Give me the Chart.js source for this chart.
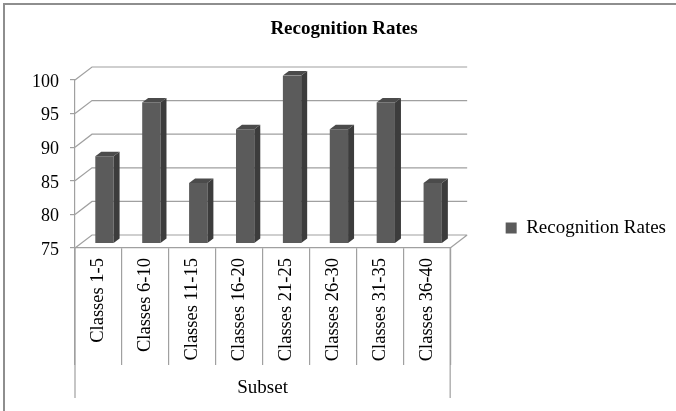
<!DOCTYPE html>
<html>
<head>
<meta charset="utf-8">
<script src="https://cdn.jsdelivr.net/npm/chart.js@4.4.1/dist/chart.umd.min.js"></script>
<style>
  html, body { margin: 0; padding: 0; background: #fff; overflow: hidden; }
  canvas { display: block; }
</style>
</head>
<body>
<canvas id="chart" width="676" height="411"></canvas>
<script>
// ---- data ----
const categories = ['Classes 1-5', 'Classes 6-10', 'Classes 11-15', 'Classes 16-20',
                    'Classes 21-25', 'Classes 26-30', 'Classes 31-35', 'Classes 36-40'];
const recognitionRates = [88, 96, 84, 92, 100, 92, 96, 84];
const valueTicks = [75, 80, 85, 90, 95, 100];
const seriesName = 'Recognition Rates';
const chartTitle = 'Recognition Rates';
const axisTitle = 'Subset';

// ---- look ----
const SERIF = '"Liberation Serif", "Times New Roman", serif';
const TEXT = '#000';
const LINE = '#a0a0a0';
const FRONT = '#5b5b5b';
const SIDE = '#3c3c3c';
const TOP = '#4b4b4b';
const WALL_DX = 17, WALL_DY = -13;   // depth of floor and back wall
const BAR_DX = 6, BAR_DY = -4.5;     // depth of each column
const AXIS_DROP = 150;               // outer category frame below the floor

// Pseudo-3D: back wall grid, floor edges, and column sides/tops.
const depthPlugin = {
  id: 'depth3d',
  beforeDraw(chart) {
    const { ctx, width, height } = chart;
    ctx.save();
    ctx.fillStyle = '#fff';
    ctx.fillRect(0, 0, width, height);
    ctx.strokeStyle = '#8e8e8e';
    ctx.lineWidth = 2;
    ctx.beginPath();
    ctx.moveTo(4, height);
    ctx.lineTo(4, 4);
    ctx.lineTo(width, 4);
    ctx.stroke();
    ctx.restore();
  },
  beforeDatasetsDraw(chart) {
    const { ctx, chartArea: a, scales: { y } } = chart;
    ctx.save();
    ctx.strokeStyle = LINE;
    ctx.lineWidth = 1.2;
    ctx.beginPath();
    valueTicks.forEach(v => {
      const py = y.getPixelForValue(v);
      ctx.moveTo(a.left, py);
      ctx.lineTo(a.left + WALL_DX, py + WALL_DY);
      ctx.lineTo(a.right + WALL_DX, py + WALL_DY);
    });
    ctx.moveTo(a.right, a.bottom);
    ctx.lineTo(a.right + WALL_DX, a.bottom + WALL_DY);
    ctx.moveTo(a.left, a.bottom);
    ctx.lineTo(a.left, a.bottom + AXIS_DROP);
    ctx.moveTo(a.right, a.bottom);
    ctx.lineTo(a.right, a.bottom + AXIS_DROP);
    ctx.stroke();
    ctx.restore();
    // columns stand a little behind the front edge of the floor
    ctx.save();
    ctx.translate(BAR_DX, BAR_DY);
  },
  afterDatasetsDraw(chart) {
    const { ctx } = chart;
    const poly = (pts, color) => {
      ctx.fillStyle = color;
      ctx.beginPath();
      pts.forEach(([px, py], i) => (i ? ctx.lineTo(px, py) : ctx.moveTo(px, py)));
      ctx.closePath();
      ctx.fill();
    };
    chart.getDatasetMeta(0).data.forEach(bar => {
      const { x, y, base, width } = bar.getProps(['x', 'y', 'base', 'width'], true);
      const l = x - width / 2, r = x + width / 2;
      poly([[r, y], [r + BAR_DX, y + BAR_DY], [r + BAR_DX, base + BAR_DY], [r, base]], SIDE);
      poly([[l, y], [l + BAR_DX, y + BAR_DY], [r + BAR_DX, y + BAR_DY], [r, y]], TOP);
    });
    ctx.restore();
  }
};

new Chart(document.getElementById('chart'), {
  type: 'bar',
  data: {
    labels: categories,
    datasets: [{
      label: seriesName,
      data: recognitionRates,
      base: valueTicks[0],
      backgroundColor: FRONT,
      borderWidth: 0,
      categoryPercentage: 1,
      barPercentage: 0.39
    }]
  },
  options: {
    responsive: false,
    animation: false,
    layout: { padding: { left: 12, top: 0, right: 0, bottom: 0 } },
    plugins: {
      title: {
        display: true,
        text: chartTitle,
        color: TEXT,
        font: { family: SERIF, size: 19, weight: 'bold' },
        padding: { top: 17.6, bottom: 39.6 }
      },
      legend: {
        position: 'right',
        align: 'center',
        maxWidth: 240,
        title: { display: true, text: '', padding: { top: 30.6, bottom: 0 } },
        labels: {
          boxWidth: 11,
          boxHeight: 11,
          padding: 55.5,
          color: TEXT,
          font: { family: SERIF, size: 19 }
        }
      },
      tooltip: { enabled: false }
    },
    scales: {
      x: {
        offset: true,
        grid: { offset: true, drawOnChartArea: false, drawTicks: true, tickLength: 117, color: LINE, lineWidth: 1.2 },
        border: { display: true, color: LINE, width: 1.2 },
        ticks: {
          minRotation: 90, maxRotation: 90, autoSkip: false, padding: -107,
          color: TEXT, font: { family: SERIF, size: 18.5 }
        },
        title: {
          display: true, text: axisTitle, color: TEXT,
          font: { family: SERIF, size: 19 },
          padding: { top: 0, bottom: 11.6 }
        },
        afterFit(s) { s.height = 163; }
      },
      y: {
        min: 75,
        max: 100,
        afterBuildTicks(s) { s.ticks = valueTicks.map(v => ({ value: v })); },
        grid: { drawOnChartArea: false, drawTicks: true, tickLength: 5, color: LINE, lineWidth: 1.2 },
        border: { display: true, color: LINE, width: 1.2 },
        ticks: { padding: 11, labelOffset: 2, color: TEXT, font: { family: SERIF, size: 18 } },
        afterFit(s) { s.width = 63; }
      }
    }
  },
  plugins: [depthPlugin]
});
</script>
</body>
</html>
